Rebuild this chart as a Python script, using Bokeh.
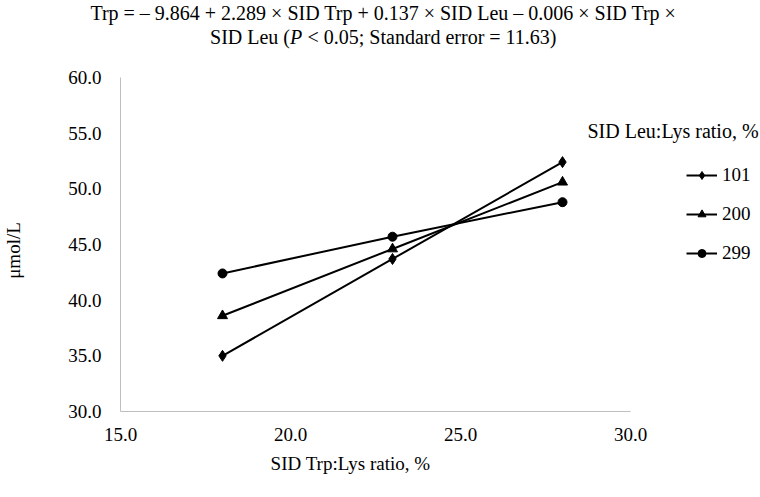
from bokeh.plotting import figure
from bokeh.models import Range1d, FixedTicker, NumeralTickFormatter, Label, Legend, LegendItem
from bokeh.embed import file_html
from bokeh.resources import INLINE

# ---- data ----
trp_ratio = [18, 23, 28]
leu_101 = [35.0, 43.7, 52.4]
leu_200 = [38.6, 44.6, 50.6]
leu_299 = [42.4, 45.7, 48.8]
series_labels = ["101", "200", "299"]
x_ticks = [15, 20, 25, 30]
y_ticks = [30, 35, 40, 45, 50, 55, 60]
x_bounds = (15, 30)
y_bounds = (30, 60)

FONT = "Liberation Serif"
W, H = 760, 497
# plot area in pixels (left, right, top, bottom)
PL, PR, PT, PB = 120, 630, 77, 411
xs = (x_bounds[1] - x_bounds[0]) / (PR - PL)
ys_ = (y_bounds[1] - y_bounds[0]) / (PB - PT)
x_range = Range1d(x_bounds[0] - PL * xs, x_bounds[1] + (W - PR) * xs)
y_range = Range1d(y_bounds[0] - (H - PB) * ys_, y_bounds[1] + PT * ys_)

p = figure(width=W, height=H, output_backend="svg", toolbar_location=None,
           x_range=x_range, y_range=y_range,
           min_border_left=0, min_border_right=0, min_border_top=0, min_border_bottom=0)
p.outline_line_color = None
p.grid.visible = False
p.background_fill_color = "white"
p.border_fill_color = "white"

for ax in (p.xaxis[0], p.yaxis[0]):
    ax.axis_line_color = "#bfbfbf"
    ax.axis_line_width = 1
    ax.major_tick_line_color = None
    ax.minor_tick_line_color = None
    ax.major_label_text_font = FONT
    ax.major_label_text_font_size = "19px"
    ax.major_label_text_color = "black"
    ax.formatter = NumeralTickFormatter(format="0.0")
p.xaxis[0].ticker = FixedTicker(ticks=x_ticks)
p.yaxis[0].ticker = FixedTicker(ticks=y_ticks)
p.xaxis[0].fixed_location = y_bounds[0]
p.yaxis[0].fixed_location = x_bounds[0]
p.xaxis[0].bounds = x_bounds
p.yaxis[0].bounds = y_bounds
p.xaxis[0].major_label_standoff = 10
p.yaxis[0].major_label_standoff = 13

markers = ["diamond", "triangle", "circle"]
sizes = [11, 10, 9]
items = []
for yv, lab, mk, sz in zip([leu_101, leu_200, leu_299], series_labels, markers, sizes):
    r1 = p.line(trp_ratio, yv, line_color="black", line_width=2)
    r2 = p.scatter(trp_ratio, yv, marker=mk, size=sz, fill_color="black", line_color="black")
    items.append(LegendItem(label=lab, renderers=[r1, r2]))

legend = Legend(items=items, location=(686, 233), padding=0, margin=0,
                border_line_color=None, background_fill_alpha=0,
                glyph_width=31, glyph_height=20, label_height=20, spacing=17,
                label_standoff=5, label_text_font=FONT, label_text_font_size="19px",
                label_text_color="black")
p.add_layout(legend, "center")

def lab(x, y, text, size="20px", align="center", style="normal", angle=0):
    p.add_layout(Label(x=x, y=y, x_units="screen", y_units="screen", text=text,
                       text_font=FONT, text_font_size=size, text_align=align,
                       text_baseline="middle", text_font_style=style, angle=angle,
                       text_color="black"))

# title (two lines)
lab(383, 485, "Trp = \u2013 9.864 + 2.289 \u00d7 SID Trp + 0.137 \u00d7 SID Leu \u2013 0.006 \u00d7 SID Trp \u00d7")
lab(289.5, 461, "SID Leu (", align="right")
lab(289.5, 461, "P", align="left", style="italic")
lab(307, 461, "< 0.05; Standard error = 11.63)", align="left")

# legend title
lab(587, 367, "SID Leu:Lys ratio, %", align="left")

# axis titles
lab(13, 247, "\u03bcmol/L", size="19px", angle=1.5707963)
lab(350, 34, "SID Trp:Lys ratio, %", size="19px")

open("out.html", "w").write(file_html(p, INLINE))
